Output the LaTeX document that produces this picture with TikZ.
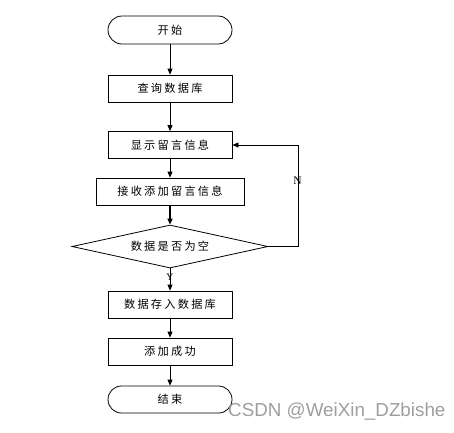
\documentclass[tikz,border=0pt]{standalone}
\usepackage{fontspec}
\setmainfont{Liberation Serif}
\newfontfamily\cjkfont[LetterSpace=20]{Noto Sans CJK SC}
\newfontfamily\markfont{Liberation Sans}
\usetikzlibrary{arrows.meta,shapes.geometric}
\definecolor{markgray}{gray}{0.62}
\tikzset{
  flowline/.style={-{Triangle[length=6pt,width=5pt]},draw=black,line width=0.8pt},
  procbox/.style={draw,rectangle,line width=0.8pt,minimum width=124pt,
                  minimum height=27pt,inner sep=0pt,font=\cjkfont\fontsize{11.2}{13}\selectfont},
  termbox/.style={procbox,rounded corners=13.5pt},
  decbox/.style={procbox,diamond,shape aspect=4.56,minimum width=196pt,minimum height=43pt},
  branchtxt/.style={inner sep=0pt,font=\fontsize{10}{11}\selectfont},
}

\begin{document}
\begin{tikzpicture}[x=1pt,y=-1pt,>=Stealth]
        \useasboundingbox (0,0) rectangle (454,432);
        % main column
        \node[termbox,minimum height=28pt,rounded corners=14pt] (start) at (170,30) {开始};
        \node[procbox] (query) at (170,88.5) {查询数据库};
        \node[procbox] (showmsg) at (170,145) {显示留言信息};
        \node[procbox,minimum width=148pt] (recvmsg) at (170,191.5) {接收添加留言信息};
        \node[decbox] (isempty) at (170,246.5) {数据是否为空};
        \node[procbox] (store) at (170,304.5) {数据存入数据库};
        \node[procbox] (addok) at (170,351.5) {添加成功};
        \node[termbox] (finish) at (170,399.5) {结束};
        \draw[flowline] (start) -- (query);
        \draw[flowline] (query) -- (showmsg);
        \draw[flowline] (showmsg) -- (recvmsg);
        \draw[flowline,line width=1.5pt] (recvmsg) -- (isempty);
        \draw[flowline] (isempty) -- (store);
        \draw[flowline] (store) -- (addok);
        \draw[flowline] (addok) -- (finish);
        % N loop back
        \coordinate (nbend) at (298,246.5);
        \draw[flowline] (isempty.east) -- (nbend) |- (showmsg.east);
        \node[branchtxt,font=\fontsize{11.5}{12}\selectfont] (nlabel) at (297.5,181) {N};
        \node[branchtxt] (ylabel) at (170,277) {Y};
        % watermark
        \node[markgray,anchor=west,inner sep=0pt,font=\markfont\fontsize{18.8}{20}\selectfont]
          (csdnmark) at (228,412) {CSDN @WeiXin\_DZbishe};
      \end{tikzpicture}
\end{document}
